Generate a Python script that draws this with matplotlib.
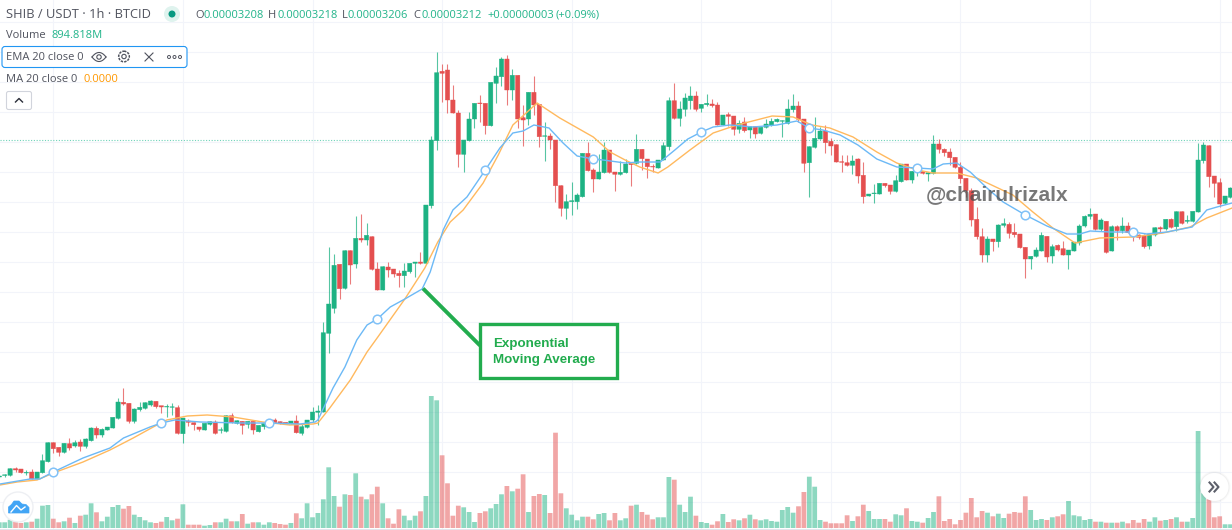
import numpy as np
import matplotlib
matplotlib.use('Agg')
import matplotlib.pyplot as plt
from matplotlib.patches import Circle, FancyBboxPatch, Polygon, Rectangle

# candle values, the price axis is not shown so the scale is arbitrary
open_ = [53,54.5,54.7,61.3,61,57,58,51,57.3,68.3,
 87.3,82.7,77.7,86.3,84,88,83.7,89.3,101.7,95,
 100,102,111.7,127.7,126.7,108.7,120.3,121.7,125,128.7,
 124.3,123,122.7,122.3,96.3,109,107.3,103,100,105.7,
 108,99.7,98.7,114.3,106.7,108.7,105.7,108.7,98.3,103.3,
 106.5,110,108.3,107.7,106,109,96.7,102.7,110,117.7,
 118,196.7,221.7,265.7,241.7,279.3,266,291.7,290,293.3,
 261,240,263,261,256.7,254.3,258.3,266.7,268,266.7,
 324.3,389.3,458.7,460,430,417,375.7,389.3,411,427,
 426.7,404.3,446.7,453.3,471,440,454.7,412.3,411,437.7,
 425.7,393.7,394,390,344.3,321.7,328.3,328.3,333.3,376.7,
 360,351,357.3,380,358,355.7,357.3,366.7,366.7,380.7,
 371,363.5,362,370,383.3,429.3,411.7,420.7,429.3,434,
 421.7,425.3,426,425,405,415.3,414,400.7,408,400,
 403.3,396.7,402.7,405,408.3,408.8,406.7,420.3,424,411,
 367.3,382.7,391,399,388.7,385.3,368.3,367.3,364.7,371,
 354.7,334,336.3,336,346.7,345,338.7,348.3,366,350,
 361.5,358.7,356,356.7,386,380.7,378,372.7,362.7,351.7,
 339.3,310.7,293.3,275,291,288.3,304.7,305.7,297.7,296,
 282.7,271,273.7,279,293.7,274,284.7,281.3,275,279,
 287,304,313.7,316,300.7,308.7,279,303.3,299.3,304,
 296.7,295,294,284,295,302.3,301,310.7,303.3,318.3,
 308.7,308.7,318,369.3,384.3,354,347.3,326.7,332.7]

close = [54,55.2,61.3,60,57.3,57.6,51,58,69.3,87.3,
 81.3,77.7,86.7,82,87.3,83.7,91,102,95,100.7,
 103,112.7,128,126,108.7,121,122.7,127.3,129,123.3,
 123,123.5,123.2,96.7,112,107.7,105.3,100.7,106.7,108.3,
 96.7,100.2,114.3,107.3,109.3,104.7,108.7,100,104.7,106.7,
 107,107.3,106.3,106,109,97.3,103.3,110,118,119,
 197.3,226,264.7,241.3,279.3,265,291.7,290,294.7,260.7,
 240,263.3,260,256,254.3,259,266.7,268,266.7,325,
 390,457.3,456.7,430,417,375.7,390,411,426.7,426.3,
 404.3,447.7,454,471,440,454.7,411,410,437.7,425,
 393.3,394.2,390,344.3,321.7,328.3,329.3,335,376.7,359.3,
 351,358,380,357.7,355.7,357.7,366,365.3,380.7,371.3,
 363.3,363,370,384.3,429.3,411.7,421,432,434,420.7,
 425.7,426.7,424.3,405,415,413.7,400.7,406.7,399.3,403.3,
 396,402.7,406,408.7,410.7,409.3,421,424,410.7,366.7,
 383.3,391.7,399,387.3,384,368,367.7,364.7,369,354,
 333.3,336,337,346.7,344.3,338.7,349.3,366,350,358.7,
 362,356.7,357.3,386,380.7,377.3,372.3,362.7,351.3,339.3,
 310,293.3,275,291,288.3,305,306.3,296.7,295.3,282.3,
 271,273.7,280,294.7,273,283.3,280,275,280,288,
 304,313.7,315.7,300.7,310,277.7,303.3,299.3,304,297.3,
 296,292.7,283.3,296,302.3,301,310.7,302.7,318.3,306.7,
 309.7,318.7,370,385,353.3,346.7,326,334,342]

high = [55,56.5,62,62.7,61.3,60,61.3,58.5,76,87.7,
 87.7,83,87,91.7,90,90.7,91.7,102.7,104,101.7,
 103.3,113,132,141.7,127,121.7,128,128.3,130,129,
 124.5,125.7,126.7,125.3,112.3,110.7,108.3,103.3,107,108.7,
 110,102.7,114.7,116.7,109.7,109,109,109,105,107,
 108,111.7,109,108.3,109.3,115,106.7,110.3,123.3,125,
 207.7,282.7,276,266,279.7,279.7,314,316,306.7,294,
 267.7,264,268.3,261.3,260,266.7,267,268.3,278.3,325.3,
 394,478,466,466,444.7,420,390.3,418.3,427,435,
 427,448,463.3,473.3,475.3,461,455,425,438,454,
 426,407.7,396.7,390.3,344.7,336,347.7,336.7,377,387.7,
 361.7,376,387.7,380.3,358.3,369,370.7,367,396,381,
 371.3,366,370.3,388.3,432.7,446.7,429.3,437.3,444,439.3,
 426,436,430.7,427.7,415.3,417.7,414.3,410,413.3,403.7,
 403.7,403,411,411.7,411.7,410,431,436,429.3,411.3,
 383.7,412.7,402.7,405,392,385.7,375,375,375,371.7,
 368,336.3,346,347,347,345.3,354.7,366.3,366.3,359,
 365,359,357.7,395,390.7,381.7,381.7,373,368.3,352,
 341.7,322.7,301.7,294.3,291.3,306,312.3,308.3,307.3,296.3,
 283,274,283.3,298.3,294,286,286,289.3,280.3,288.3,
 306,315,322,316.3,312.3,309,305,305,312.7,308.3,
 297,296,296,296.3,302.7,304,311.3,311.7,318.7,318.7,
 315,319,387.3,388,384.7,354.3,351.7,334.3,343.3]

low = [52,53.5,54,58.3,56.7,54.7,50.7,50.7,56.7,68,
 76.7,74,77,80,82.7,79.3,81.7,88.7,92.3,93.3,
 99.7,101.7,111.3,125.3,106.7,106.7,119.3,121.3,124.3,122,
 117.3,113.3,115,95.7,87.3,104,100,98.7,99.7,105.3,
 95.7,96.7,98.3,106.7,106.3,96,101.7,95.7,98,101,
 105,106.7,106,105.7,105.7,96.7,94.7,102.3,108.3,105,
 117.7,176.7,216.7,230.7,241,246,261.7,288.3,285,260,
 239.7,239.7,252.7,252.7,243.3,243.3,256.7,252.7,266.3,266.3,
 322.3,380,428.3,416.7,416.7,363.3,357.7,389,401.7,408.3,
 395.7,404,426.7,444,425,430,401.7,384.3,405,415,
 383.3,369.3,381,328.3,314,310.7,315,320.7,333,359,
 337.7,350.7,357,357.3,339.3,355.3,357,344.3,366.3,360,
 351.7,358.3,361.7,369.7,380,411.3,404,414.3,420.7,419.3,
 418.3,424,422.7,404.7,404.7,404.3,395,396.7,398.3,391.7,
 392,396.3,401.7,404.3,407.7,393.3,406.3,418.3,408.3,357.7,
 333.3,382.3,390.7,376.7,374.7,367.7,357.7,364.3,356,346.7,
 327.3,333.7,327.3,335.7,343.3,336,337.7,348,349.7,347.3,
 354,356,349.3,356.3,376.7,374,365,362.3,346.7,333.3,
 304.3,290.7,267.7,267.7,279.3,283.3,303.3,291.7,293.3,282,
 252.3,261,273.3,278.7,268.3,267.3,279.3,275,261,278.7,
 285,303.3,311,300.3,299.3,277.3,279,290,296.7,296.7,
 289.3,291.3,282.3,281.3,294.3,296.7,300,301.7,299,306,
 307.3,308,317.7,366.7,342.7,332.7,322.7,326.3,332.3]

volume = [5.7,5.7,8.3,6.7,5,5.7,6.3,9.3,22.3,23,
 9.3,5.7,6.7,10.3,5,12.3,13.3,24.7,15.7,6.7,
 11.3,21,23,19.3,22,13.3,11,7.7,5.7,5,
 6.3,11,7.7,9.3,23.7,3.3,3.3,3.3,2.3,3,
 5.7,5.7,9.3,6.7,6.7,14,4.3,5.7,5.7,3.3,
 5.7,5,4,3.3,5,14.7,9.7,24.7,10.7,15,
 28.7,60.7,32,21.3,33.7,33,54.7,31.3,28.7,33.7,
 41.3,24.7,9.7,4.3,18.7,12.3,7.7,12.3,16.7,32,
 132,127.7,72.7,44.7,12.3,22.3,20.7,16,6,15,
 16.7,19.7,24,33.7,42,36.7,39.3,53.7,16,32,
 34,33,15,95.3,34.7,19.7,13.3,7.7,11.3,11.3,
 8.7,14,15,7.7,15,7.7,9.7,22.3,23.3,16,
 13.3,8.7,10.7,10.7,51,48.3,23.3,16,31.3,12.3,
 6,5,3.3,6.7,14,6,8.7,7.7,9.7,13.3,
 8.7,7.7,8.7,7,6.3,18,21,15.3,21.7,36,
 51.3,41.3,8,6.3,4.7,4.7,4.7,12.7,7,11.7,
 23.3,17,9,9,9,6.3,13.7,12.7,19.7,7,
 6.3,5.3,10,16,31.7,7,9,3.7,8,15.3,
 30,10.7,17,15.3,11.7,14.3,10,14.3,16,15.3,
 31.7,18,8,9,8,10.7,11.7,13.7,27,12.7,
 11.7,8,9,6.3,6.3,5.3,5.3,5.3,6.3,4.7,
 8,5.3,9,6.3,10.7,7.3,8,9,10.7,6.3,
 6.3,10,97,34.7,28.7,10.7,11.7,3.7,3.7]

# EMA line, candle index and value
ema_idx = [0.13,5.7,7.5,10,15.5,20.5,23,27.9,30,32.5,37.2,44.6,50,55.7,58.5,59,61.8,64,66.2,68.1,
 70,72.4,75.1,78.3,79.8,82.2,84,86.6,90,92.7,95.1,97,99,101.8,104.4,107,110,111.8,115.9,118.6,
 122.4,125.1,127.5,130,132.2,135.3,139.6,144,147.7,150,152.5,155.7,159,162.5,166.2,170,172.9,174.8,177.3,179.8,
 182.9,185.9,190,194,197.7,200.1,202,205.7,210,212.5,216.2,220.9,223.6,225.5,228.3]
ema_val = [46,51,51,58,72,82,92,103,107,110,108,107,107,106,108,110,142,163,190,205,
 211,223,231,241,258,300,320,333,360,382,397,399,405,402,387,374,371,370,367,368,
 368,380,391,398,403,405,403,405,409,402,400,395,385,371,363,362,361,366,367,358,
 342,328,315,304,296,296,299,298,298,296,298,303,320,323,327]

# MA line
ma_idx = [0.13,3.3,7,10,15.5,20.5,24.8,28.5,31,34.8,38.5,43.3,48.8,53.8,58.1,59,61.2,65,68.1,70.1,
 75.1,78.8,81.2,83.5,85.9,89.6,92.4,95.1,99.6,103.8,110,113.1,115.9,118.6,122,123.8,127.9,132.2,136.6,143.1,
 147,150.5,153.8,158.1,162.5,166.2,170,172.9,177.3,181,187.7,191.4,195.1,199.2,203.8,210,215.5,220.5,223.6,228.3]
ma_val = [45,48,50,57,68,80,92,103,110,114,115,113,108,105,106,107,122,150,178,193,
 231,262,288,308,320,347,375,405,427,412,393,378,370,363,357,363,380,397,405,414,
 413,405,402,393,378,367,360,357,357,352,335,318,302,287,292,293,297,303,312,322]

# round markers sit every 20 candles on the EMA
ema_marks = [10,30,50,70,90,110,130,150,170,190,210]

last_close = 390.5

green = '#1db283'
red = '#e44f4f'
blue = '#6cb9f6'
orange = '#ffb95e'
grid_col = '#f2f4fa'
ann_green = '#22ac4e'

W, H = 1232, 530
fig = plt.figure(figsize=(W / 100, H / 100), dpi=100, facecolor='white')
ax = fig.add_axes([0, 0, 1, 1])
ax.set_xlim(0.7 / 5.4, (W + 0.7) / 5.4)
ax.set_ylim(0, H)

# grid
ax.set_xticks(np.arange(10, 229, 24))
ax.set_yticks(np.arange(28, 520, 30))
ax.grid(True, color=grid_col, lw=0.75)
ax.set_axisbelow(True)
ax.tick_params(length=0, labelbottom=False, labelleft=False)
for s in ax.spines.values():
    s.set_visible(False)

o = np.array(open_)
c = np.array(close)
idx = np.arange(len(o))
up = c >= o
cols = np.where(up, green, red)

# volume at the bottom
vol_bars = ax.bar(idx, volume, bottom=2, width=0.88, color=cols, alpha=0.5, lw=0, zorder=1)
for p in vol_bars:
    p.set_snap(False)
ax.axhline(1.5, color='#e3e5ec', lw=0.75, zorder=1)

ax.axhline(last_close, color='#6fd3b8', ls=(0, (1, 1.5)), lw=0.8, zorder=1.5)

# candles
ax.vlines(idx, low, high, colors=cols, lw=0.8, alpha=0.75, zorder=2)
bodies = ax.bar(idx, np.abs(c - o), bottom=np.minimum(o, c), width=0.8, color=cols,
                edgecolor=cols, linewidth=0.3, zorder=3)
for p in bodies:
    p.set_snap(False)

# moving averages
ax.plot(ma_idx, ma_val, color=orange, lw=1, zorder=4)
ax.plot(ema_idx, ema_val, color=blue, lw=1, zorder=4)
mark_x = [x for x in ema_idx if x in ema_marks]
mark_y = [ema_val[ema_idx.index(x)] for x in mark_x]
ax.plot(mark_x, mark_y, 'o', ms=6.2, mfc='white', mec='#82c2f7', mew=1.1, zorder=5)

# overlay in screen pixels for the annotation and the chart's interface
ui = fig.add_axes([0, 0, 1, 1], facecolor='none')
ui.set_xlim(0, W)
ui.set_ylim(H, 0)
ui.axis('off')

ui_font = 'Open Sans'
grey = '#50535e'
teal = '#22b48a'


def label(x, y, s, color=grey, size=8.0):
    ui.text(x, y + 1, s, color=color, fontsize=size, family=ui_font, va='center', ha='left')


label(5.5, 14, 'SHIB / USDT · 1h · BTCID', size=9.3)
ui.add_patch(Circle((172, 14), 8, fc='#dff3ee', ec='none'))
ui.add_patch(Circle((172, 14), 3.5, fc='#089981', ec='none'))
for x, s in [(195, 'O'), (268, 'H'), (342, 'L'), (413, 'C')]:
    label(x, 14, s)
for x, s in [(203, '0.00003208'), (277, '0.00003218'), (348, '0.00003206'), (421, '0.00003212'),
             (487, '+0.00000003'), (556, '(+0.09%)')]:
    label(x, 14, s, teal)
label(6, 34.5, 'Volume')
label(51, 34.5, '894.818M', teal)

ui.add_patch(FancyBboxPatch((2, 46.5), 185, 21, boxstyle='round,pad=0,rounding_size=3',
                            fc='white', ec='#2196f3', lw=0.8))
label(6, 57, 'EMA 20 close 0')
# eye, gear, cross and dots
eye_t = np.linspace(-1, 1, 30)
ui.plot(99 + 7 * eye_t, 57 - 4.5 * (1 - eye_t ** 2), color=grey, lw=0.8)
ui.plot(99 + 7 * eye_t, 57 + 4.5 * (1 - eye_t ** 2), color=grey, lw=0.8)
ui.add_patch(Circle((99, 57), 2.2, fc='none', ec=grey, lw=0.8))
ui.add_patch(Circle((124, 56.5), 5.3, fc='none', ec=grey, lw=1.1, ls=(0, (1.6, 0.7))))
ui.add_patch(Circle((124, 56.5), 2.2, fc='none', ec=grey, lw=0.8))
ui.plot([145, 153], [53, 61], color=grey, lw=0.8)
ui.plot([145, 153], [61, 53], color=grey, lw=0.8)
for x in [169, 174.5, 180]:
    ui.add_patch(Circle((x, 57), 1.5, fc='none', ec=grey, lw=0.7))

label(6, 78, 'MA 20 close 0')
label(84, 78, '0.0000', '#ff9800')

ui.add_patch(FancyBboxPatch((6.5, 91.5), 25, 18, boxstyle='round,pad=0,rounding_size=2',
                            fc='white', ec='#d1d4dc', lw=0.8))
ui.plot([15.5, 19, 22.5], [102, 98.5, 102], color='#2a2e39', lw=1)

# annotation
ui.plot([423, 480], [288.5, 345.5], color=ann_green, lw=2.8, solid_capstyle='butt', zorder=6)
ui.add_patch(Rectangle((480, 324), 137, 54, fc='white', ec=ann_green, lw=2.4, zorder=6))
ui.text(493, 343.5, 'Exponential', color=ann_green, fontsize=9.6, family='Liberation Sans',
        weight='bold', va='center', zorder=7)
ui.text(493, 360, 'Moving Average', color=ann_green, fontsize=9.6, family='Liberation Sans',
        weight='bold', va='center', zorder=7)

# watermark
ui.text(926, 195, '@chairulrizalx', color='#4b4b4b', alpha=0.75, fontsize=15.0,
        family='Liberation Sans', weight='bold', va='center', zorder=7)

# logo bottom left
ui.add_patch(Circle((18, 507), 15, fc='white', ec='#eceef2', lw=1, alpha=0.92, zorder=6))
ui.add_patch(Polygon([(8.5, 513), (8.5, 507), (11.5, 504.5), (14, 501), (19, 501), (22, 504),
                      (26, 504.5), (29, 507.5), (29, 513)],
                     fc='#42a5f5', ec='#42a5f5', lw=0.5, zorder=7))
ui.plot([11, 16.5, 21, 25], [512, 505.5, 510, 507], color='white', lw=1, zorder=8)

# scroll button bottom right
for r, a in [(16, 0.03), (15, 0.05)]:
    ui.add_patch(Circle((1214.5, 487), r, fc='#555555', ec='none', alpha=a, zorder=6))
ui.add_patch(Circle((1214.5, 487), 14, fc='white', ec='none', zorder=6))
ui.plot([1209.5, 1213.5, 1209.5], [482.5, 487, 491.5], color='#5d606b', lw=1.5, zorder=7)
ui.plot([1214.5, 1218.5, 1214.5], [482.5, 487, 491.5], color='#5d606b', lw=1.5, zorder=7)

fig.savefig('out.png', dpi=100)
